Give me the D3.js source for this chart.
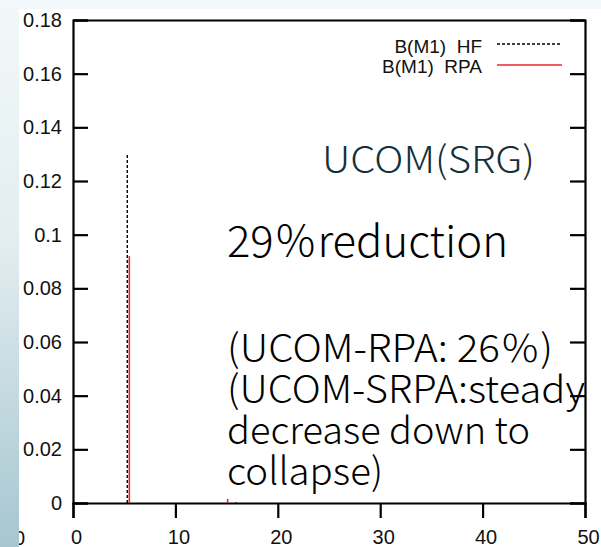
<!DOCTYPE html>
<html><head><meta charset="utf-8">
<script src="https://cdn.jsdelivr.net/npm/d3@7"></script>
<style>body{margin:0;background:#fff;} svg{display:block;}</style>
</head><body>
<svg id="c" width="601" height="547"></svg>
<script>
// ---- data ----
const hfX = [5.3, 15.9];
const hfY = [0.1304, 0.0003];
const rpaX = [5.5, 15.1];
const rpaY = [0.092, 0.0015];
const xTicks = [0, 10, 20, 30, 40, 50];
const yTicks = [0, 0.02, 0.04, 0.06, 0.08, 0.1, 0.12, 0.14, 0.16, 0.18];
const legendLabels = ["B(M1)  HF", "B(M1)  RPA"];
const noteTitle = "UCOM(SRG)";
const noteMain = "29％reduction";
const noteLines = ["(UCOM-RPA: 26％)", "(UCOM-SRPA:steady", "decrease down to", "collapse)"];

// layout (pixel widths of annotation lines)
const noteLineWidths = [326, 358, 303, 156];

const svg = d3.select("#c");
const L = 73, R = 585, T = 20, B = 503;
const x = d3.scaleLinear().domain([0, 50]).range([L, R]);
const y = d3.scaleLinear().domain([0, 0.18]).range([B, T]);

// stray clipped label at far left
svg.append("text").attr("x", 19.5).attr("y", 545).attr("text-anchor", "middle")
  .attr("font-family", "Liberation Sans, Arial, sans-serif").attr("font-size", 20).attr("fill", "#111").text("0");

// background strips
const defs = svg.append("defs");
const g1 = defs.append("linearGradient").attr("id", "lg").attr("x1", 0).attr("y1", 0).attr("x2", 0).attr("y2", 1);
g1.append("stop").attr("offset", 0).attr("stop-color", "#f2f8f9");
g1.append("stop").attr("offset", 0.45).attr("stop-color", "#e2edf0");
g1.append("stop").attr("offset", 1).attr("stop-color", "#a6c6d0");
svg.append("rect").attr("x", 0).attr("y", 0).attr("width", 601).attr("height", 9).attr("fill", "#f2f8f9");
svg.append("rect").attr("x", 0).attr("y", 0).attr("width", 19).attr("height", 547).attr("fill", "url(#lg)");

const fmt = d => d === 0 ? "0" : String(+d.toFixed(2));
const tickFont = "Liberation Sans, Arial, Helvetica, sans-serif";

// left axis
const ax = svg.append("g").attr("transform", `translate(${L},0)`)
  .call(d3.axisLeft(y).tickValues(yTicks).tickFormat(fmt).tickSize(-15).tickPadding(11));
// right axis
const ar = svg.append("g").attr("transform", `translate(${R},0)`)
  .call(d3.axisRight(y).tickValues(yTicks).tickFormat("").tickSize(-15));
// bottom axis
const ab = svg.append("g").attr("transform", `translate(0,${B})`)
  .call(d3.axisBottom(x).tickValues(xTicks).tickFormat(d3.format("d")).tickSize(15).tickPadding(12));
// top axis
const at = svg.append("g").attr("transform", `translate(0,${T})`)
  .call(d3.axisTop(x).tickValues([]).tickSize(0));

[ax, ar, ab, at].forEach(g => {
  g.selectAll("path.domain").attr("stroke", "#000").attr("stroke-width", 2.2);
  g.selectAll(".tick line").attr("stroke", "#000").attr("stroke-width", 2.2);
  g.selectAll(".tick text").attr("font-family", tickFont).attr("font-size", 20).attr("fill", "#111");
});
ab.selectAll(".tick text").attr("dx", 3);

// impulses
const gd = svg.append("g");
gd.selectAll("line.hf").data(hfX.map((v, i) => [v, hfY[i]])).join("line")
  .attr("x1", d => x(d[0])).attr("x2", d => x(d[0]))
  .attr("y1", y(0)).attr("y2", d => y(d[1]))
  .attr("stroke", "#000").attr("stroke-width", 1.4).attr("stroke-dasharray", "3,2");
gd.selectAll("line.rpa").data(rpaX.map((v, i) => [v, rpaY[i]])).join("line")
  .attr("x1", d => x(d[0])).attr("x2", d => x(d[0]))
  .attr("y1", y(0)).attr("y2", d => y(d[1]))
  .attr("stroke", "#e8272e").attr("stroke-width", 1.6);

// legend
const lg = svg.append("g").attr("font-family", tickFont).attr("font-size", 19).attr("fill", "#111");
const legY = [44, 65];
const nb = s => s.replace(/ /g, "\u00A0");
lg.append("text").attr("x", 482).attr("y", 53).attr("text-anchor", "end").text(nb(legendLabels[0]));
lg.append("text").attr("x", 482).attr("y", 73).attr("text-anchor", "end").text(nb(legendLabels[1]));
lg.append("line").attr("x1", 497).attr("x2", 562).attr("y1", legY[0]).attr("y2", legY[0])
  .attr("stroke", "#000").attr("stroke-width", 1.4).attr("stroke-dasharray", "3,2");
lg.append("line").attr("x1", 497).attr("x2", 562).attr("y1", legY[1]).attr("y2", legY[1])
  .attr("stroke", "#e8272e").attr("stroke-width", 1.6);

// annotations
const noteFont = "'Noto Sans CJK JP', 'Noto Sans', sans-serif";
svg.append("text").attr("x", 322).attr("y", 173).attr("font-family", noteFont).attr("font-weight", 300)
  .attr("font-size", 37).attr("fill", "#15303a")
  .attr("textLength", 213).attr("lengthAdjust", "spacingAndGlyphs").text(noteTitle);
svg.append("text").attr("x", 227).attr("y", 257).attr("font-family", noteFont).attr("font-weight", 300)
  .attr("font-size", 43).attr("fill", "#000")
  .attr("textLength", 281).attr("lengthAdjust", "spacingAndGlyphs").text(noteMain);
svg.append("g").selectAll("text").data(noteLines).join("text")
  .attr("x", 227).attr("y", (d, i) => 362 + i * 41).attr("font-family", noteFont).attr("font-weight", 300)
  .attr("font-size", 38).attr("fill", "#000")
  .attr("textLength", (d, i) => noteLineWidths[i]).attr("lengthAdjust", "spacingAndGlyphs")
  .text(d => d);
</script>
</body></html>
